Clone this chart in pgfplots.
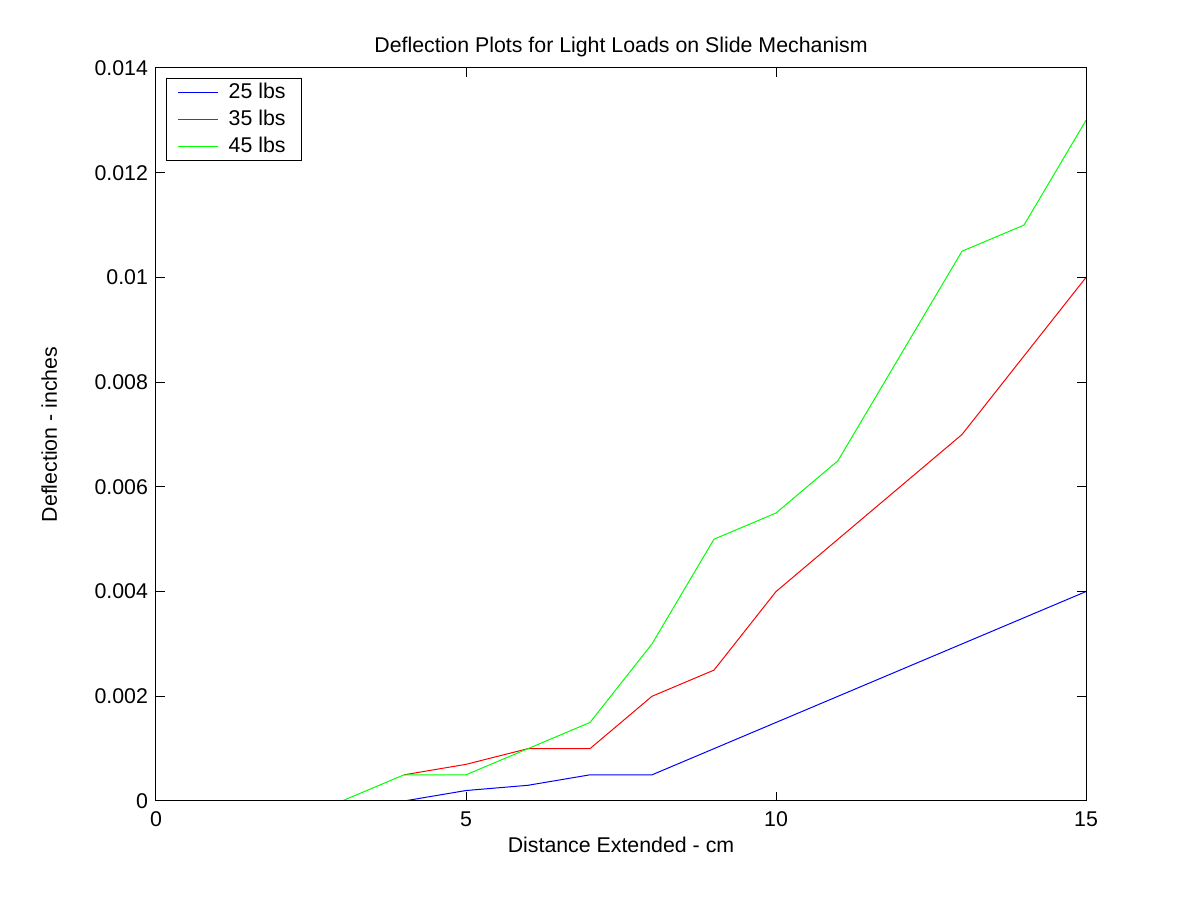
\documentclass[border=0pt]{standalone}
\usepackage{pgfplots}
\pgfplotsset{compat=1.18}
\usepackage{fontspec}
\setmainfont{Liberation Sans}
\begin{document}
\begin{tikzpicture}[x=1pt,y=1pt]
\useasboundingbox (0,0) rectangle (900,675);
\fill[white] (0,0) rectangle (900,675);
\begin{axis}[
  at={(117pt,74.25pt)}, anchor=south west,
  scale only axis, width=697.5pt, height=549.75pt,
  xmin=0, xmax=15, ymin=0, ymax=0.014,
  xtick={0,5,10,15},
  ytick={0,0.002,0.004,0.006,0.008,0.01,0.012,0.014},
  scaled y ticks=false,
  yticklabel style={/pgf/number format/fixed, /pgf/number format/precision=3},
  /pgf/number format/assume math mode=true,
  tick align=inside, major tick length=6.5pt,
  axis line style={line width=0.75pt}, tick style={line width=0.75pt, black},
  every tick label/.append style={font=\fontsize{16}{19}\selectfont},
  xticklabel style={yshift=-4.5pt},
  yticklabel style={xshift=-2.5pt},
  title={Deflection Plots for Light Loads on Slide Mechanism},
  title style={at={(axis description cs:0.5,1.0109)}, anchor=base, font=\fontsize{16}{19}\selectfont},
  xlabel={Distance Extended - cm},
  xlabel style={at={(axis description cs:0.5,-0.0696)}, anchor=base, font=\fontsize{16}{19}\selectfont},
  ylabel={Deflection - inches},
  ylabel style={at={(axis description cs:-0.1065,0.5)}, anchor=base, font=\fontsize{16}{19}\selectfont},
  axis on top,
  legend style={at={(axis description cs:0.0108,0.9864)}, anchor=north west,
    draw=black, line width=0.75pt, font=\fontsize{16}{19}\selectfont,
    inner xsep=8pt, inner ysep=0.25pt, row sep=0pt,
    nodes={text height=11.75pt, text depth=3pt, inner ysep=2.75pt, inner xsep=4pt}},
  legend cell align=left,
  legend image code/.code={\draw[#1, line width=1pt] (0pt,0pt) -- (30pt,0pt); \path (33.75pt,0pt);},
]
\addplot[color=blue, line width=0.75pt] coordinates {
(4,0) (5,0.0002) (6,0.0003) (7,0.0005) (8,0.0005) (9,0.001) (10,0.0015)
(11,0.002) (12,0.0025) (13,0.003) (14,0.0035) (15,0.004)};
\addlegendentry{25 lbs}
\addplot[color=red, line width=0.75pt] coordinates {
(4,0.0005) (5,0.0007) (6,0.001) (7,0.001) (8,0.002) (9,0.0025) (10,0.004)
(11,0.005) (12,0.006) (13,0.007) (14,0.0085) (15,0.01)};
\addlegendentry{35 lbs}
\addplot[color=green, line width=0.75pt] coordinates {
(3,0) (4,0.0005) (5,0.0005) (6,0.001) (7,0.0015) (8,0.003) (9,0.005) (10,0.0055)
(11,0.0065) (12,0.0085) (13,0.0105) (14,0.011) (15,0.013)};
\addlegendentry{45 lbs}
\end{axis}
\end{tikzpicture}
\end{document}
